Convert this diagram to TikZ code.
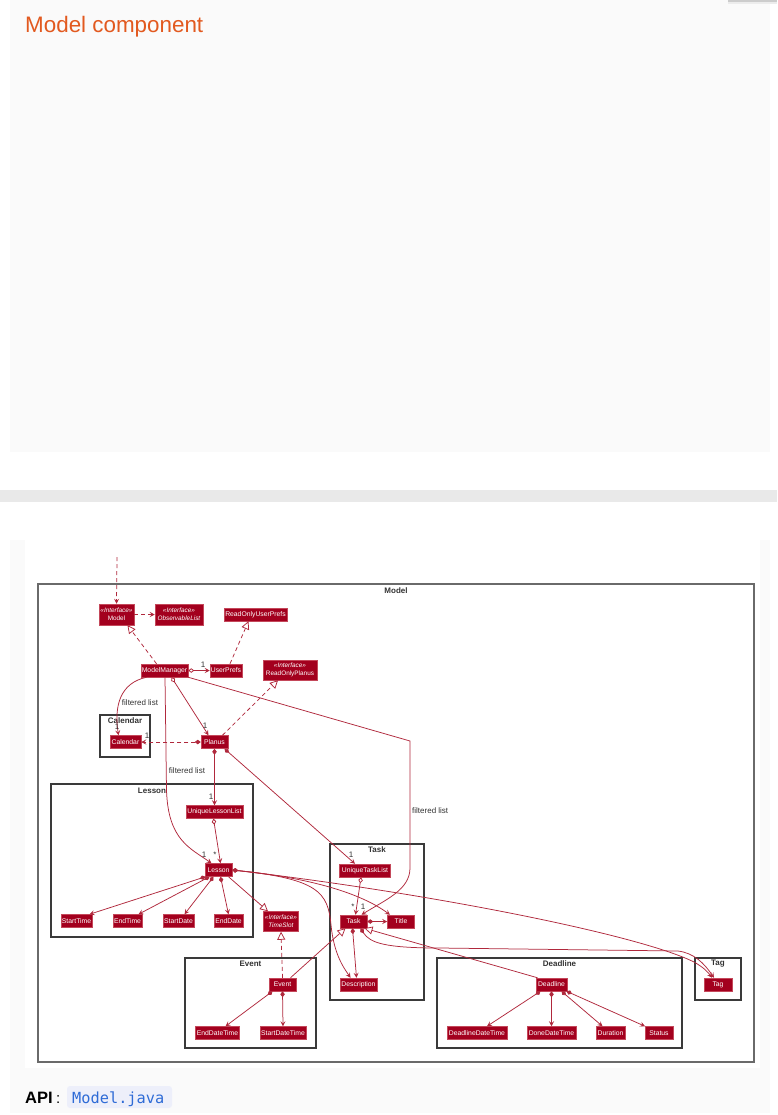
\documentclass[tikz,border=0pt]{standalone}
\usepackage{fontspec}
\setmainfont{Liberation Sans}
\newfontfamily\codefont{DejaVu Sans Mono}
\usetikzlibrary{arrows.meta}
\definecolor{nodefill}{HTML}{A3001E}
\definecolor{nodeedge}{HTML}{C4485A}
\definecolor{linkcol}{HTML}{B0283C}
\definecolor{frameline}{HTML}{3A3A3A}
\definecolor{modelframe}{HTML}{6A6A6A}
\definecolor{titleorange}{HTML}{E2591F}
\definecolor{codeblue}{HTML}{2E6BD6}
\definecolor{codebg}{HTML}{EDEFFA}
\definecolor{panelbg}{HTML}{FAFAFA}
\definecolor{bandgray}{HTML}{E9E9E9}
\definecolor{lbl}{HTML}{333333}
\begin{document}
\begin{tikzpicture}[x=1pt,y=-1pt,
  cls/.style={fill=nodefill, draw=nodeedge, line width=0.5pt, text=white,
    font=\fontsize{6.8}{8}\selectfont, inner sep=0pt, minimum height=13pt},
  ifc/.style={cls, align=center, font=\fontsize{6.4}{7.6}\selectfont, minimum height=21pt},
  flabel/.style={font=\bfseries\fontsize{8}{9}\selectfont, text=lbl, inner sep=0pt},
  elabel/.style={font=\fontsize{8}{9}\selectfont, text=lbl, inner sep=0pt},
  frm/.style={draw=frameline, line width=1.1pt},
  lnk/.style={draw=linkcol, line width=0.75pt},
  dsh/.style={lnk, dash pattern=on 4pt off 3pt},
  asc/.style={lnk, arrows=-{Stealth[length=5pt,width=5pt,inset=2pt]}},
  dep/.style={dsh, arrows=-{Stealth[length=5pt,width=5pt,inset=2pt]}},
  real/.style={dsh, arrows=-{Triangle[open,length=8pt,width=8pt,fill=white]}},
  ext/.style={lnk, arrows=-{Triangle[open,length=8pt,width=8pt,fill=white]}},
  comp/.style={lnk, arrows={Diamond[length=6pt,width=4.5pt]}-{Stealth[length=5pt,width=5pt,inset=2pt]}},
  compd/.style={dsh, arrows={Diamond[length=6pt,width=4.5pt]}-{Stealth[length=5pt,width=5pt,inset=2pt]}},
  agg/.style={lnk, arrows={Diamond[open,length=6pt,width=4.5pt,fill=white]}-{Stealth[length=5pt,width=5pt,inset=2pt]}}
]
\useasboundingbox (0,0) rectangle (777,1115);
% page background
\fill[white] (0,0) rectangle (777,1115);
\fill[panelbg] (10,0) rectangle (770,452);
\fill[gray!40] (728,0) rectangle (777,2);
\fill[gray!15] (728,2) rectangle (777,4);
\fill[bandgray] (0,490) rectangle (777,502);
\fill[panelbg] (10,540) rectangle (770,1113);
\fill[white] (25,540) rectangle (760,1068);

\node[anchor=base west, text=titleorange, font=\fontsize{22.4}{26}\selectfont, inner sep=0pt] (heading) at (25,33) {Model component};

% frames
\draw[draw=modelframe, line width=1.1pt] (38,584) rectangle (754,1062);
\node[flabel] (lmodel) at (396,591) {Model};
\draw[frm] (100,715) rectangle (150,757);
\node[flabel] (lcal) at (125,721) {Calendar};
\draw[frm] (51,784) rectangle (253,937);
\node[flabel] (llesson) at (152,791) {Lesson};
\draw[frm] (185,958) rectangle (316,1048);
\node[flabel] (levent) at (250.5,964) {Event};
\draw[frm] (330,844) rectangle (424,1000);
\node[flabel] (ltask) at (377,850) {Task};
\draw[frm] (437,958) rectangle (682,1048);
\node[flabel] (ldeadline) at (559.5,964) {Deadline};
\draw[frm] (695,958) rectangle (741,1000);
\node[flabel] (ltag) at (718,964) {Tag};

% classes
\node[ifc, minimum width=35pt] (model) at (116.5,614.5) {\textit{«Interface»}\\Model};
\node[ifc, minimum width=48pt] (obs) at (179,614.5) {\textit{«Interface»}\\\textit{ObservableList}};
\node[cls, minimum width=63pt] (rup) at (255.5,614.5) {ReadOnlyUserPrefs};
\node[cls, minimum width=47pt] (mm) at (164.5,670.5) {ModelManager};
\node[cls, minimum width=32pt] (up) at (226,670.5) {UserPrefs};
\node[ifc, minimum width=54pt, minimum height=20pt] (rop) at (290,670) {\textit{«Interface»}\\ReadOnlyPlanus};
\node[cls, minimum width=31pt] (cal) at (125.5,742) {Calendar};
\node[cls, minimum width=27pt] (planus) at (214.5,742) {Planus};
\node[cls, minimum width=57pt] (ull) at (214.5,812) {UniqueLessonList};
\node[cls, minimum width=27pt] (lesson) at (218.5,870) {Lesson};
\node[cls, minimum width=31pt] (starttime) at (76.5,921) {StartTime};
\node[cls, minimum width=29pt] (endtime) at (127.5,921) {EndTime};
\node[cls, minimum width=31pt] (startdate) at (178.5,921) {StartDate};
\node[cls, minimum width=29pt] (enddate) at (228.5,921) {EndDate};
\node[ifc, minimum width=35pt, minimum height=20pt] (timeslot) at (281,921.5) {\textit{«Interface»}\\\textit{TimeSlot}};
\node[cls, minimum width=27pt] (event) at (282.5,984.5) {Event};
\node[cls, minimum width=44pt] (enddt) at (217.5,1033) {EndDateTime};
\node[cls, minimum width=46pt] (startdt) at (283,1033) {StartDateTime};
\node[cls, minimum width=51pt] (utl) at (365,870.5) {UniqueTaskList};
\node[cls, minimum width=27pt] (task) at (353.5,921.5) {Task};
\node[cls, minimum width=27pt] (title) at (401,921.5) {Title};
\node[cls, minimum width=37pt] (desc) at (358.5,984.5) {Description};
\node[cls, minimum width=31pt] (deadline) at (551.5,984.5) {Deadline};
\node[cls, minimum width=60pt] (ddt) at (477,1033) {DeadlineDateTime};
\node[cls, minimum width=49pt] (donedt) at (551.5,1033) {DoneDateTime};
\node[cls, minimum width=29pt] (duration) at (610.5,1033) {Duration};
\node[cls, minimum width=28pt] (status) at (659,1033) {Status};
\node[cls, minimum width=28pt] (tag) at (718,984.5) {Tag};

% connectors
\coordinate (entry) at (117,557);
\draw[dep] (entry) -- (model.north);
\draw[dep] (model.east) -- (obs.west);
\draw[real] ([xshift=-8pt]mm.north) -- ([xshift=11pt]model.south);
\draw[real] ([xshift=4pt]up.north) -- ([xshift=-7pt]rup.south);
\draw[agg] (mm.east) -- (up.west);
\draw[real] ([xshift=8pt]planus.north) -- ([xshift=-12pt]rop.south);
\draw[asc] ([xshift=-18pt]mm.south) .. controls (120,683) and (114,706) .. ([xshift=-7pt]cal.north);
\draw[agg] ([xshift=7pt]mm.south) -- ([xshift=-6pt]planus.north);
\draw[compd] (planus.west) -- (cal.east);
\draw[asc] ([xshift=0.5pt]mm.south) -- (166.5,790) .. controls (168,840) and (190,848) .. ([xshift=-7pt]lesson.north);
\draw[comp] (planus.south) -- (ull.north);
\draw[comp] ([xshift=10pt]planus.south) -- ([xshift=-10pt]utl.north);
\draw[agg] ([xshift=-1pt]ull.south) -- ([xshift=2pt]lesson.north);
\draw[comp] ([xshift=-13pt]lesson.south) -- ([xshift=13pt]starttime.north);
\draw[comp] ([xshift=-9pt]lesson.south) -- ([xshift=11pt]endtime.north);
\draw[comp] ([xshift=-5pt]lesson.south) -- ([xshift=6pt]startdate.north);
\draw[comp] ([xshift=2pt]lesson.south) -- (enddate.north);
\draw[ext] ([xshift=10pt]lesson.south) -- ([xshift=-13pt]timeslot.north);
\draw[real] (event.north) -- (timeslot.south);
\draw[ext] ([xshift=8pt]event.north) -- ([xshift=-8pt]task.south);
\draw[comp] ([xshift=-10pt]event.south) -- ([xshift=8pt]enddt.north);
\draw[comp] (event.south) -- (startdt.north);
\draw[agg] ([xshift=-4pt]utl.south) -- ([xshift=2pt]task.north);
\draw[asc] (mm.south east) -- (410,741) -- (410,868) .. controls (410,890) and (385,900) .. ([xshift=8pt]task.north);
\draw[comp] (task.east) -- (title.west);
\draw[comp] ([xshift=-1pt]task.south) -- ([xshift=-2pt]desc.north);
\draw[comp] (lesson.east) .. controls (318,879) and (328,892) .. (331,925) .. controls (334,955) and (344,968) .. ([xshift=-8pt]desc.north);
\draw[comp] (lesson.east) .. controls (330,880) and (370,900) .. ([xshift=-11pt]title.north);
\draw[comp] (lesson.east) .. controls (430,893) and (640,935) .. (694,962) .. controls (703,967) and (708,972) .. ([xshift=-6pt]tag.north);
\draw[comp] ([xshift=7pt]task.south) .. controls (370,943) and (385,948) .. (440,948) -- (678,951) .. controls (694,953) and (704,963) .. ([xshift=-4pt]tag.north);
\draw[ext] ([xshift=-14pt]deadline.north) -- ([xshift=11pt]task.south);
\draw[comp] ([xshift=-11pt]deadline.south) -- ([xshift=10pt]ddt.north);
\draw[comp] (deadline.south) -- (donedt.north);
\draw[comp] ([xshift=10pt]deadline.south) -- ([xshift=-8pt]duration.north);
\draw[comp] ([xshift=15pt]deadline.south) -- ([xshift=-14pt]status.north);

% connector labels
\node[elabel] (m1) at (203,665) {1};
\node[elabel] (fl1) at (140,703) {filtered list};
\node[elabel] (m2) at (117,727) {1};
\node[elabel] (m3) at (205,726) {1};
\node[elabel] (m4) at (147,736) {1};
\node[elabel] (fl2) at (187,771) {filtered list};
\node[elabel] (m5) at (211,797) {1};
\node[elabel] (m6) at (351,855) {1};
\node[elabel] (m7) at (204,855) {1};
\node[elabel] (m8) at (215,855) {*};
\node[elabel] (m9) at (353,907) {*};
\node[elabel] (m10) at (363,907) {1};
\node[elabel, anchor=west] (fl3) at (412,811) {filtered list};

% API line
\node[anchor=base west, font=\bfseries\fontsize{16.5}{19}\selectfont, inner sep=0pt] (api) at (25,1103) {API};
\node[anchor=base west, font=\fontsize{15}{18}\selectfont, inner sep=0pt] (colon) at (56,1103) {:};
\fill[codebg, rounded corners=3pt] (67,1086) rectangle (172,1108);
\node[anchor=base west, font=\codefont\fontsize{15.3}{18}\selectfont, text=codeblue, inner sep=0pt] (code) at (72,1103) {Model.java};
\end{tikzpicture}
\end{document}
